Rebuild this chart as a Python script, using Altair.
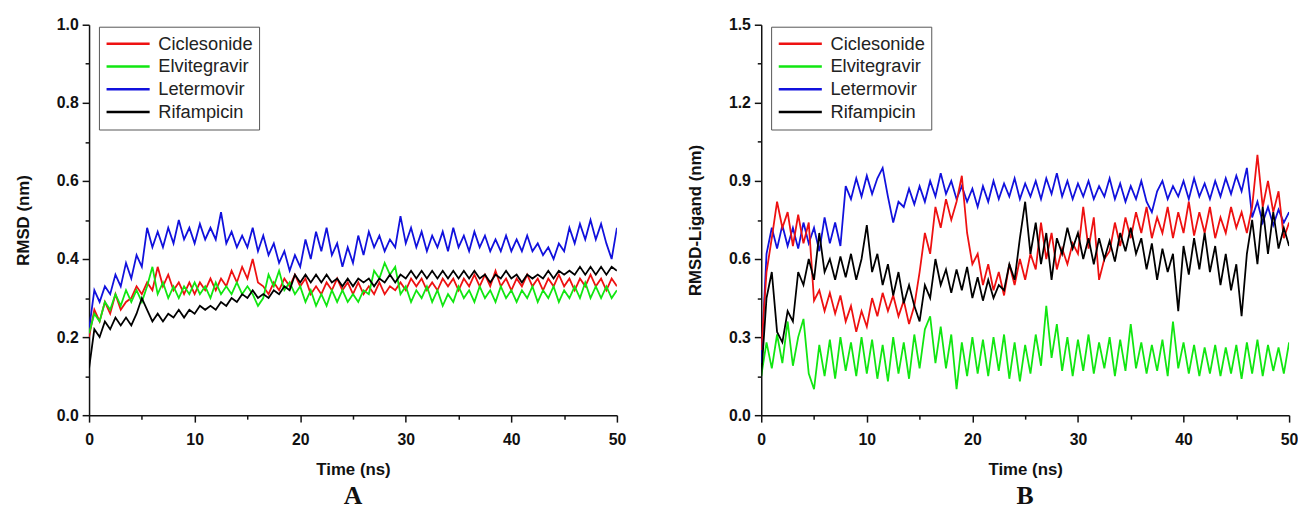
import altair as alt
import pandas as pd

TIME_STEP = 0.5  # ns between samples

# Panel A : protein RMSD (nm)
A_ciclesonide = [0.20, 0.27, 0.24, 0.29, 0.26, 0.31, 0.27, 0.29, 0.30, 0.33,
                 0.31, 0.34, 0.32, 0.38, 0.33, 0.36, 0.32, 0.34, 0.31, 0.34,
                 0.31, 0.34, 0.32, 0.35, 0.32, 0.35, 0.33, 0.37, 0.34, 0.38,
                 0.35, 0.40, 0.34, 0.33, 0.31, 0.34, 0.32, 0.35, 0.33, 0.36,
                 0.33, 0.35, 0.31, 0.33, 0.31, 0.34, 0.32, 0.35, 0.32, 0.34,
                 0.31, 0.34, 0.31, 0.33, 0.31, 0.34, 0.31, 0.33, 0.32, 0.34,
                 0.32, 0.35, 0.33, 0.35, 0.32, 0.34, 0.32, 0.35, 0.33, 0.35,
                 0.32, 0.35, 0.33, 0.36, 0.33, 0.36, 0.33, 0.37, 0.33, 0.35,
                 0.32, 0.35, 0.33, 0.36, 0.33, 0.35, 0.32, 0.35, 0.33, 0.36,
                 0.33, 0.35, 0.32, 0.35, 0.33, 0.36, 0.33, 0.35, 0.32, 0.35,
                 0.33]
A_elvitegravir = [0.21, 0.26, 0.24, 0.29, 0.27, 0.31, 0.28, 0.32, 0.29, 0.32,
                  0.29, 0.33, 0.38, 0.31, 0.34, 0.30, 0.33, 0.30, 0.33, 0.31,
                  0.34, 0.31, 0.33, 0.30, 0.34, 0.31, 0.33, 0.31, 0.34, 0.31,
                  0.33, 0.31, 0.28, 0.30, 0.36, 0.33, 0.37, 0.32, 0.34, 0.31,
                  0.33, 0.29, 0.32, 0.28, 0.31, 0.28, 0.32, 0.29, 0.32, 0.29,
                  0.31, 0.29, 0.32, 0.31, 0.37, 0.35, 0.39, 0.36, 0.38, 0.31,
                  0.33, 0.29, 0.32, 0.30, 0.33, 0.29, 0.32, 0.28, 0.31, 0.29,
                  0.33, 0.30, 0.32, 0.29, 0.33, 0.30, 0.32, 0.29, 0.33, 0.30,
                  0.32, 0.29, 0.32, 0.30, 0.33, 0.29, 0.32, 0.30, 0.33, 0.29,
                  0.32, 0.30, 0.33, 0.30, 0.34, 0.30, 0.33, 0.30, 0.33, 0.30,
                  0.32]
A_letermovir = [0.22, 0.32, 0.29, 0.33, 0.31, 0.36, 0.33, 0.39, 0.35, 0.41,
                0.38, 0.48, 0.43, 0.47, 0.43, 0.48, 0.44, 0.50, 0.45, 0.48,
                0.44, 0.49, 0.45, 0.48, 0.45, 0.52, 0.44, 0.47, 0.43, 0.46,
                0.43, 0.48, 0.42, 0.46, 0.41, 0.44, 0.39, 0.42, 0.37, 0.41,
                0.38, 0.45, 0.40, 0.47, 0.42, 0.48, 0.41, 0.44, 0.38, 0.43,
                0.39, 0.46, 0.41, 0.47, 0.43, 0.46, 0.42, 0.45, 0.43, 0.51,
                0.44, 0.48, 0.43, 0.47, 0.42, 0.46, 0.43, 0.47, 0.42, 0.48,
                0.43, 0.46, 0.42, 0.47, 0.43, 0.46, 0.42, 0.45, 0.42, 0.46,
                0.42, 0.45, 0.42, 0.46, 0.42, 0.44, 0.41, 0.43, 0.40, 0.44,
                0.42, 0.48, 0.44, 0.49, 0.45, 0.50, 0.45, 0.49, 0.44, 0.40,
                0.48]
A_rifampicin = [0.12, 0.22, 0.20, 0.24, 0.22, 0.25, 0.23, 0.25, 0.23, 0.26,
                0.30, 0.27, 0.24, 0.26, 0.24, 0.26, 0.25, 0.27, 0.25, 0.27,
                0.26, 0.28, 0.27, 0.28, 0.27, 0.29, 0.28, 0.30, 0.29, 0.31,
                0.30, 0.32, 0.30, 0.31, 0.30, 0.32, 0.31, 0.33, 0.32, 0.36,
                0.34, 0.36, 0.34, 0.36, 0.34, 0.36, 0.34, 0.35, 0.33, 0.35,
                0.33, 0.35, 0.34, 0.35, 0.33, 0.35, 0.34, 0.36, 0.34, 0.36,
                0.35, 0.37, 0.35, 0.37, 0.35, 0.37, 0.35, 0.37, 0.35, 0.37,
                0.35, 0.37, 0.35, 0.37, 0.35, 0.36, 0.34, 0.36, 0.35, 0.37,
                0.35, 0.36, 0.34, 0.36, 0.35, 0.36, 0.35, 0.37, 0.35, 0.37,
                0.36, 0.37, 0.36, 0.38, 0.36, 0.38, 0.36, 0.38, 0.36, 0.38,
                0.37]

# Panel B : ligand RMSD (nm)
B_ciclesonide = [0.25, 0.55, 0.68, 0.82, 0.72, 0.78, 0.65, 0.77, 0.66, 0.74,
                 0.44, 0.48, 0.40, 0.47, 0.39, 0.46, 0.36, 0.42, 0.32, 0.40,
                 0.34, 0.45, 0.38, 0.47, 0.40, 0.46, 0.38, 0.44, 0.35, 0.42,
                 0.55, 0.70, 0.62, 0.80, 0.72, 0.83, 0.75, 0.82, 0.92, 0.70,
                 0.58, 0.62, 0.50, 0.58, 0.48, 0.55, 0.46, 0.58, 0.50, 0.60,
                 0.52, 0.62, 0.56, 0.74, 0.60, 0.70, 0.56, 0.64, 0.58, 0.66,
                 0.62, 0.80, 0.64, 0.76, 0.52, 0.60, 0.63, 0.74, 0.65, 0.76,
                 0.68, 0.78, 0.70, 0.80, 0.68, 0.76, 0.70, 0.80, 0.68, 0.78,
                 0.70, 0.82, 0.69, 0.78, 0.70, 0.80, 0.68, 0.76, 0.70, 0.80,
                 0.72, 0.78, 0.70, 0.80, 1.00, 0.80, 0.90, 0.78, 0.86, 0.68,
                 0.74]
B_elvitegravir = [0.15, 0.28, 0.18, 0.31, 0.20, 0.36, 0.19, 0.30, 0.37, 0.16,
                  0.10, 0.27, 0.15, 0.29, 0.14, 0.30, 0.17, 0.28, 0.15, 0.30,
                  0.16, 0.29, 0.14, 0.27, 0.13, 0.30, 0.16, 0.28, 0.14, 0.31,
                  0.18, 0.33, 0.38, 0.20, 0.34, 0.18, 0.31, 0.10, 0.28, 0.15,
                  0.30, 0.16, 0.29, 0.15, 0.30, 0.17, 0.31, 0.14, 0.28, 0.13,
                  0.27, 0.16, 0.31, 0.19, 0.42, 0.22, 0.35, 0.17, 0.30, 0.15,
                  0.29, 0.17, 0.31, 0.16, 0.28, 0.18, 0.30, 0.15, 0.29, 0.17,
                  0.35, 0.18, 0.28, 0.16, 0.27, 0.17, 0.29, 0.15, 0.36, 0.18,
                  0.28, 0.16, 0.27, 0.15, 0.26, 0.16, 0.27, 0.15, 0.26, 0.16,
                  0.27, 0.14, 0.28, 0.16, 0.29, 0.15, 0.27, 0.17, 0.26, 0.16,
                  0.28]
B_letermovir = [0.20, 0.62, 0.72, 0.64, 0.73, 0.65, 0.72, 0.64, 0.74, 0.66,
                0.72, 0.63, 0.76, 0.66, 0.74, 0.65, 0.88, 0.83, 0.91, 0.84,
                0.92, 0.85, 0.91, 0.95, 0.84, 0.74, 0.82, 0.80, 0.87, 0.81,
                0.88, 0.82, 0.90, 0.84, 0.93, 0.85, 0.90, 0.83, 0.88, 0.82,
                0.87, 0.80, 0.88, 0.82, 0.90, 0.83, 0.89, 0.84, 0.91, 0.83,
                0.89, 0.84, 0.90, 0.83, 0.91, 0.85, 0.93, 0.84, 0.90, 0.83,
                0.89, 0.84, 0.90, 0.83, 0.88, 0.84, 0.91, 0.83, 0.89, 0.82,
                0.88, 0.83, 0.90, 0.82, 0.78, 0.86, 0.90, 0.83, 0.88, 0.84,
                0.90, 0.83, 0.91, 0.84, 0.89, 0.83, 0.90, 0.84, 0.91, 0.85,
                0.92, 0.86, 0.95, 0.76, 0.82, 0.74, 0.80, 0.73, 0.79, 0.74,
                0.78]
B_rifampicin = [0.15, 0.45, 0.55, 0.32, 0.28, 0.40, 0.36, 0.55, 0.50, 0.60,
                0.52, 0.70, 0.55, 0.60, 0.52, 0.61, 0.53, 0.62, 0.52, 0.60,
                0.73, 0.55, 0.62, 0.50, 0.58, 0.46, 0.55, 0.43, 0.50, 0.42,
                0.36, 0.50, 0.45, 0.60, 0.50, 0.56, 0.47, 0.56, 0.48, 0.57,
                0.45, 0.53, 0.44, 0.52, 0.45, 0.50, 0.48, 0.58, 0.52, 0.68,
                0.82, 0.62, 0.74, 0.58, 0.70, 0.52, 0.68, 0.62, 0.72, 0.64,
                0.70, 0.60, 0.68, 0.58, 0.68, 0.60, 0.67, 0.59, 0.70, 0.63,
                0.72, 0.62, 0.68, 0.56, 0.66, 0.52, 0.64, 0.55, 0.62, 0.40,
                0.65, 0.54, 0.68, 0.56, 0.70, 0.55, 0.65, 0.50, 0.62, 0.48,
                0.58, 0.38, 0.62, 0.75, 0.58, 0.80, 0.62, 0.78, 0.64, 0.72,
                0.65]

drugs = ["Ciclesonide", "Elvitegravir", "Letermovir", "Rifampicin"]
drug_colors = ["#ee1111", "#11e611", "#1111dd", "#000000"]
draw_order = ["Letermovir", "Ciclesonide", "Elvitegravir", "Rifampicin"]

panel_A = {"Ciclesonide": A_ciclesonide, "Elvitegravir": A_elvitegravir,
           "Letermovir": A_letermovir, "Rifampicin": A_rifampicin}
panel_B = {"Ciclesonide": B_ciclesonide, "Elvitegravir": B_elvitegravir,
           "Letermovir": B_letermovir, "Rifampicin": B_rifampicin}

x_tick_values = [0, 5, 10, 15, 20, 25, 30, 35, 40, 45, 50]
A_y_ticks = [0.0, 0.1, 0.2, 0.3, 0.4, 0.5, 0.6, 0.7, 0.8, 0.9, 1.0]
B_y_ticks = [0.0, 0.15, 0.3, 0.45, 0.6, 0.75, 0.9, 1.05, 1.2, 1.35, 1.5]

SANS = "Liberation Sans"


def frame(series):
    rows = []
    for name in draw_order:
        for i, v in enumerate(series[name]):
            rows.append({"t": i * TIME_STEP, "rmsd": v, "drug": name})
    return pd.DataFrame(rows)


def panel(series, ymax, yticks, minor_step, ytitle, letter):
    df = frame(series)
    x_axis = alt.Axis(
        title="Time (ns)", values=x_tick_values,
        labelExpr="datum.value % 10 == 0 ? datum.label : ''",
        tickSize={"condition": {"test": "datum.value % 10 == 0", "value": 7}, "value": 4},
        labelPadding=10, titlePadding=14, labelFlush=False, grid=False,
    )
    test = f"round(datum.value / {minor_step}) % 2 == 0"
    y_axis = alt.Axis(
        title=ytitle, values=yticks,
        labelExpr=f"{test} ? format(datum.value, '.1f') : ''",
        tickSize={"condition": {"test": test, "value": 7}, "value": 4},
        labelPadding=4, titlePadding=24, grid=False,
    )
    legend = alt.Legend(
        orient="none", legendX=10, legendY=2, title=None,
        strokeColor="#555555", fillColor="white", padding=6,
        symbolType="stroke", symbolSize=1900, symbolStrokeWidth=2.5,
        labelFont=SANS, labelFontSize=18.5, labelFontWeight="normal",
        labelColor="#222222", labelOffset=7, rowPadding=0, clipHeight=22.5,
        cornerRadius=0,
    )
    return alt.Chart(df).mark_line(strokeWidth=1.8, clip=True).encode(
        x=alt.X("t:Q", scale=alt.Scale(domain=[0, 50], nice=False), axis=x_axis),
        y=alt.Y("rmsd:Q", scale=alt.Scale(domain=[0, ymax], nice=False), axis=y_axis),
        color=alt.Color("drug:N", scale=alt.Scale(domain=drugs, range=drug_colors), legend=legend),
        detail="drug:N",
    ).properties(
        width=534, height=395,
        title=alt.TitleParams(letter, orient="bottom", font="Liberation Serif",
                              fontSize=26, fontWeight="bold", offset=6, anchor="middle",
                              color="#111111"),
    )


left = panel(panel_A, 1.0, A_y_ticks, 0.1, "RMSD (nm)", "A")
right = panel(panel_B, 1.5, B_y_ticks, 0.15, "RMSD-Ligand (nm)", "B")

chart = alt.hconcat(left, right, spacing=61).resolve_scale(color="independent").properties(
    padding={"left": 6, "top": 6, "right": 0, "bottom": 0},
    background="white",
).configure_view(stroke=None).configure_axis(
    domainColor="#111111", domainWidth=1.5, tickColor="#111111", tickWidth=1.5,
    labelFont=SANS, labelFontSize=16, labelFontWeight="bold", labelColor="#111111",
    titleFont=SANS, titleFontSize=17, titleFontWeight="bold", titleColor="#111111",
)

chart.save("out.html", embed_options={"renderer": "svg", "actions": False})
